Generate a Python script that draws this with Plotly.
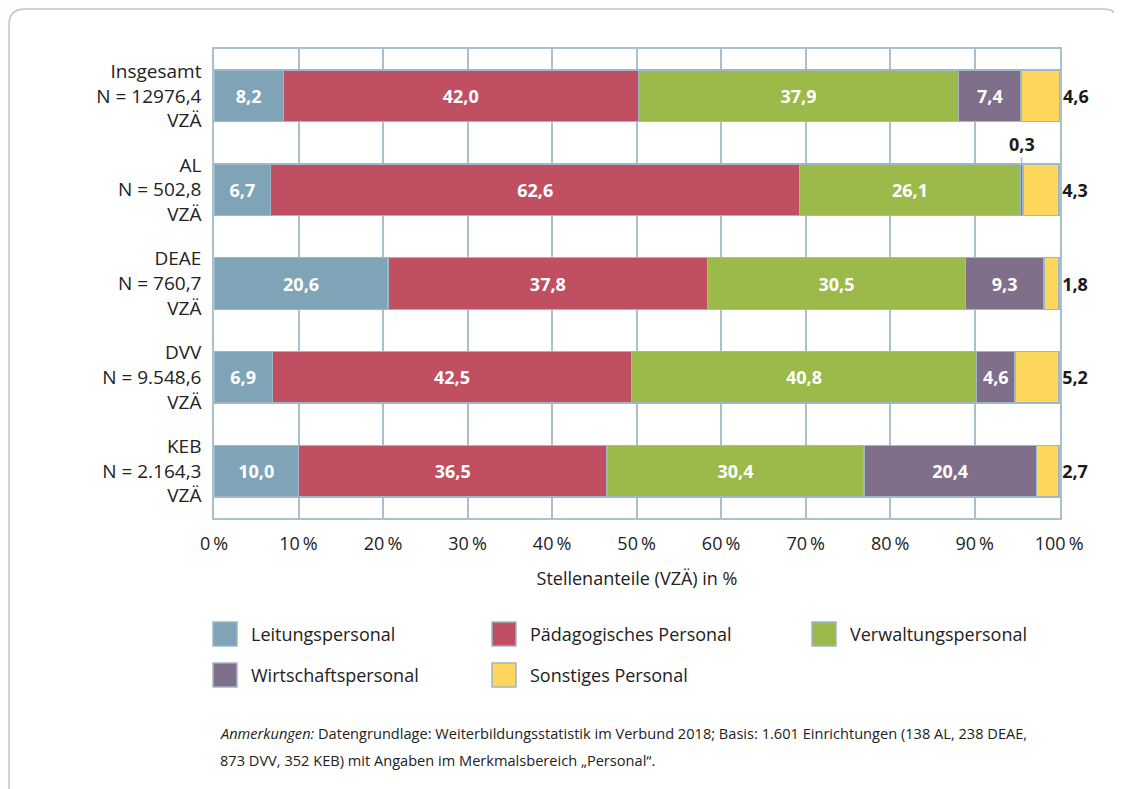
import plotly.graph_objects as go

categories = ["Insgesamt<br>N = 12976,4<br>VZÄ", "AL<br>N = 502,8<br>VZÄ", "DEAE<br>N = 760,7<br>VZÄ",
              "DVV<br>N = 9.548,6<br>VZÄ", "KEB<br>N = 2.164,3<br>VZÄ"]
series_names = ["Leitungspersonal", "Pädagogisches Personal", "Verwaltungspersonal",
                "Wirtschaftspersonal", "Sonstiges Personal"]
leitung = [8.2, 6.7, 20.6, 6.9, 10.0]
paedagogisch = [42.0, 62.6, 37.8, 42.5, 36.5]
verwaltung = [37.9, 26.1, 30.5, 40.8, 30.4]
wirtschaft = [7.4, 0.3, 9.3, 4.6, 20.4]
sonstiges = [4.6, 4.3, 1.8, 5.2, 2.7]
x_ticks = [0, 10, 20, 30, 40, 50, 60, 70, 80, 90, 100]
x_ticktext = ["0\u2009%", "10\u2009%", "20\u2009%", "30\u2009%", "40\u2009%", "50\u2009%",
              "60\u2009%", "70\u2009%", "80\u2009%", "90\u2009%", "100\u2009%"]

colors = ["#7fa3b7", "#c04f61", "#9bba4a", "#806f8b", "#fdd75b"]
edge = "#9fb7c6"
grid = "#a9c0cd"
FONT = "Open Sans"

# page body has an 8px margin; work in reference-pixel coordinates and shift by OFF
OFF = 8
W, H = 1122 - OFF, 789 - OFF
L = 214 - OFF
T = 49 - OFF
R = W - (1060 - OFF)
B = H - (518 - OFF)
PW, PH = W - L - R, H - T - B


def px(x):
    return (x - OFF - L) / PW


def py(y):
    return (H - B - (y - OFF)) / PH


def fmt(v):
    return f"{v:.1f}".replace(".", ",")


all_series = [leitung, paedagogisch, verwaltung, wirtschaft, sonstiges]
fig = go.Figure()
for i, (name, vals) in enumerate(zip(series_names, all_series)):
    if i < 4:
        texts = [fmt(v) if v >= 1 else "" for v in vals]
        fig.add_trace(go.Bar(
            y=categories, x=vals, name=name, orientation="h",
            marker=dict(color=colors[i], line=dict(color=edge, width=1.5)),
            text=texts, texttemplate="%{text}", textposition="inside",
            insidetextanchor="middle",
            textfont=dict(family=FONT, size=18, color="white", weight="bold"),
            hoverinfo="skip", showlegend=False, cliponaxis=False,
        ))
    else:
        fig.add_trace(go.Bar(
            y=categories, x=vals, name=name, orientation="h",
            marker=dict(color=colors[i], line=dict(color=edge, width=1.5)),
            text=[fmt(v) for v in vals], texttemplate="%{text}", textposition="outside",
            outsidetextfont=dict(family=FONT, size=18, color="#1a1a1a", weight="bold"),
            hoverinfo="skip", showlegend=False, cliponaxis=False,
        ))

# small value label above the AL bar
for j, v in enumerate(wirtschaft):
    if v < 1:
        xpos = leitung[j] + paedagogisch[j] + verwaltung[j] + v / 2
        fig.add_annotation(x=xpos, y=categories[j], xref="x", yref="y", text=f"<b>{fmt(v)}</b>",
                           showarrow=True, arrowhead=0, arrowwidth=1.5, arrowcolor=grid,
                           ax=0, ay=-46, standoff=25,
                           font=dict(family=FONT, size=18, color="#1a1a1a"))

fig.update_layout(
    width=W, height=H, barmode="stack", bargap=0.45,
    margin=dict(l=L, r=R, t=T, b=B),
    paper_bgcolor="white", plot_bgcolor="white",
    font=dict(family=FONT, size=18, color="#222"),
    showlegend=False,
)
fig.update_xaxes(range=[0, 100.1], tickvals=x_ticks, ticktext=x_ticktext, showgrid=True,
                 gridcolor=grid, gridwidth=1.5, showline=True, linecolor=grid, linewidth=1.5,
                 mirror=True, ticks="", zeroline=False, ticklabelstandoff=9,
                 tickfont=dict(family=FONT, size=18, color="#222"),
                 title=dict(text="Stellenanteile (VZÄ) in %", font=dict(family=FONT, size=18, color="#222"),
                            standoff=18))
fig.update_yaxes(autorange="reversed", showline=True, linecolor=grid, linewidth=1.5, mirror=True,
                 ticks="", showgrid=False, ticklabelstandoff=7,
                 tickfont=dict(family=FONT, size=19, color="#222"))

# legend (manual, 3 columns)
leg_pos = [(213, 634), (492, 634), (812, 634), (213, 675), (492, 675)]
for (lx, ly), name, c in zip(leg_pos, series_names, colors):
    fig.add_shape(type="rect", xref="paper", yref="paper",
                  x0=px(lx), x1=px(lx + 24), y0=py(ly + 12), y1=py(ly - 12),
                  fillcolor=c, line=dict(color=edge, width=1.5))
    fig.add_annotation(xref="paper", yref="paper", x=px(lx + 36), y=py(ly), text=name,
                       showarrow=False, xanchor="left", yanchor="middle",
                       font=dict(family=FONT, size=18, color="#222"))

# footnote
fig.add_annotation(xref="paper", yref="paper", x=px(218), y=py(733), xanchor="left", yanchor="middle",
                   showarrow=False, align="left",
                   text="<i>Anmerkungen:</i> Datengrundlage: Weiterbildungsstatistik im Verbund 2018; Basis: 1.601 Einrichtungen (138 AL, 238 DEAE,",
                   font=dict(family=FONT, size=14.6, color="#222"))
fig.add_annotation(xref="paper", yref="paper", x=px(218), y=py(760), xanchor="left", yanchor="middle",
                   showarrow=False, align="left",
                   text="873 DVV, 352 KEB) mit Angaben im Merkmalsbereich „Personal“.",
                   font=dict(family=FONT, size=14.6, color="#222"))

# outer rounded frame
r = 16
xl, xr, yt, yb = 9, 1119, 9, 820
path = (f"M {px(xl)},{py(yb)} L {px(xl)},{py(yt + r)} Q {px(xl)},{py(yt)} {px(xl + r)},{py(yt)} "
        f"L {px(xr - r)},{py(yt)} Q {px(xr)},{py(yt)} {px(xr)},{py(yt + r)} L {px(xr)},{py(yb)}")
fig.add_shape(type="path", xref="paper", yref="paper", path=path,
              line=dict(color="#b4c6d1", width=1.5), layer="below")

fig.write_html("out.html")
